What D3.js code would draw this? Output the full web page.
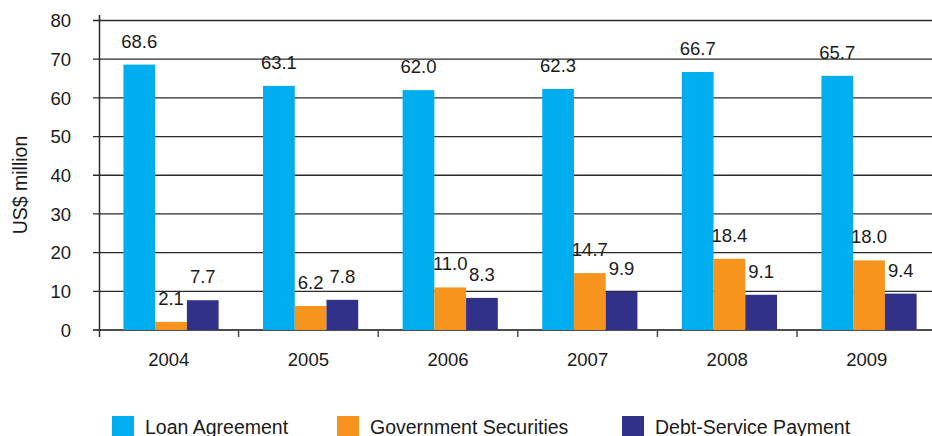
<!DOCTYPE html>
<html>
<head>
<meta charset="utf-8">
<script src="https://cdn.jsdelivr.net/npm/d3@7"></script>
<style>
  body { margin: 0; background: #fff; }
  text { font-family: "Liberation Sans", Arial, sans-serif; fill: #1a1a1a; }
</style>
</head>
<body>
<svg id="chart" width="932" height="436"></svg>
<script>
const years = ["2004", "2005", "2006", "2007", "2008", "2009"];
const seriesNames = ["Loan Agreement", "Government Securities", "Debt-Service Payment"];
const loanAgreement = [68.6, 63.1, 62.0, 62.3, 66.7, 65.7];
const govSecurities = [2.1, 6.2, 11.0, 14.7, 18.4, 18.0];
const debtService = [7.7, 7.8, 8.3, 9.9, 9.1, 9.4];
const yTicks = [0, 10, 20, 30, 40, 50, 60, 70, 80];
const colors = ["#00aeef", "#f7941d", "#32318a"];

const svg = d3.select("#chart");

// band per year, sub band per series
const x = d3.scaleBand().domain(years).range([99, 99 + 6 * 139.6]);
const xSub = d3.scaleBand().domain(seriesNames)
  .range([0, x.bandwidth()])
  .paddingOuter(0.7)
  .align(0.55);
const y = d3.scaleLinear().domain([0, 80]).range([330, 20.5]);

// gridlines + y ticks
svg.append("g")
  .selectAll("line")
  .data(yTicks)
  .join("line")
    .attr("x1", 93)
    .attr("x2", 932)
    .attr("y1", d => y(d))
    .attr("y2", d => y(d))
    .attr("stroke", d => d === 0 ? "#4d4d4d" : "#2a2a2a")
    .attr("stroke-width", d => d === 0 ? 2 : 1.3);

svg.append("g")
  .selectAll("text")
  .data(yTicks)
  .join("text")
    .attr("x", 71)
    .attr("y", d => y(d))
    .attr("dy", "0.36em")
    .attr("text-anchor", "end")
    .style("font-size", "18.5px")
    .text(d => d);

// y axis line
svg.append("line")
  .attr("x1", 99.5).attr("x2", 99.5)
  .attr("y1", 15).attr("y2", 337)
  .attr("stroke", "#2a2a2a")
  .attr("stroke-width", 1.5);

// x ticks at band edges
svg.append("g")
  .selectAll("line")
  .data(years.slice(1))
  .join("line")
    .attr("x1", d => x(d))
    .attr("x2", d => x(d))
    .attr("y1", 330)
    .attr("y2", 337)
    .attr("stroke", "#4d4d4d")
    .attr("stroke-width", 1.5);

svg.append("g")
  .selectAll("text")
  .data(years)
  .join("text")
    .attr("x", d => x(d) + x.bandwidth() / 2)
    .attr("y", 366)
    .attr("text-anchor", "middle")
    .style("font-size", "18.5px")
    .text(d => d);

// y title
svg.append("text")
  .attr("transform", "translate(27,185) rotate(-90)")
  .attr("text-anchor", "middle")
  .style("font-size", "19.5px")
  .text("US$ million");

// bars
const rows = years.map((yr, i) => ({
  year: yr,
  values: [loanAgreement[i], govSecurities[i], debtService[i]]
}));

const groups = svg.append("g")
  .selectAll("g")
  .data(rows)
  .join("g")
    .attr("transform", d => `translate(${x(d.year)},0)`);

groups.selectAll("rect")
  .data(d => d.values.map((v, k) => ({ name: seriesNames[k], value: v, k: k })))
  .join("rect")
    .attr("x", d => xSub(d.name))
    .attr("width", xSub.bandwidth())
    .attr("y", d => y(d.value))
    .attr("height", d => y(0) - y(d.value))
    .attr("fill", d => colors[d.k]);

groups.selectAll("text")
  .data(d => d.values.map((v, k) => ({ name: seriesNames[k], value: v })))
  .join("text")
    .attr("x", d => xSub(d.name) + xSub.bandwidth() / 2)
    .attr("y", d => y(d.value) - 17)
    .attr("text-anchor", "middle")
    .style("font-size", "18.5px")
    .text(d => d.value.toFixed(1));

// legend
const legendX = [112, 337, 622];
const legend = svg.append("g")
  .selectAll("g")
  .data(seriesNames)
  .join("g")
    .attr("transform", (d, i) => `translate(${legendX[i]},416)`);

legend.append("rect")
  .attr("width", 22)
  .attr("height", 22)
  .attr("fill", (d, i) => colors[i]);

legend.append("text")
  .attr("x", 33)
  .attr("y", 17.5)
  .style("font-size", "19.5px")
  .text(d => d);
</script>
</body>
</html>
